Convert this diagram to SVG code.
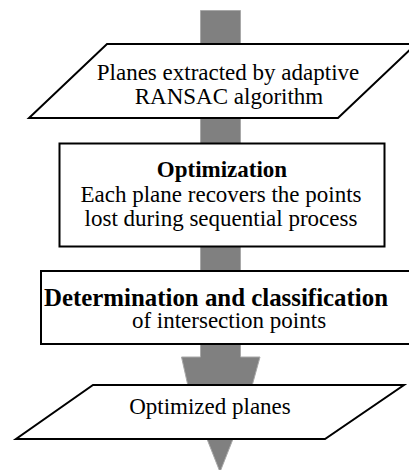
<svg xmlns="http://www.w3.org/2000/svg" width="409" height="470" viewBox="0 0 409 470">
<style>
.shape{fill:#fff;stroke:#000;stroke-width:2}
.arrow{fill:#808080;stroke:#a8a8a8;stroke-width:1}
text{font-family:"Liberation Serif","Times New Roman",serif;font-size:23px;fill:#000;text-anchor:middle}
.b{font-weight:bold}
</style>
<rect width="409" height="470" fill="#fff"/>
<g id="connectors">
<polygon class="arrow" points="200.5,10.5 240.5,10.5 240.5,357 260,357 252,386 233,439 220,472 207,439 188,386 181.5,357 200.5,357"/>
</g>
<g id="n1">
<polygon class="shape" points="107,44 416,44 338,118 29,118"/>
<text x="228" y="80">Planes extracted by adaptive</text>
<text x="229" y="104">RANSAC algorithm</text>
</g>
<g id="n2">
<rect class="shape" x="59.5" y="143.5" width="325" height="103"/>
<text class="b" x="222" y="177">Optimization</text>
<text x="221" y="201.5">Each plane recovers the points</text>
<text x="221" y="225.5">lost during sequential process</text>
</g>
<g id="n3">
<rect class="shape" x="41" y="271" width="380" height="73"/>
<text class="b" x="216" y="305.5" style="font-size:25px" textLength="344" lengthAdjust="spacingAndGlyphs">Determination and classification</text>
<text x="229" y="328">of intersection points</text>
</g>
<g id="n4">
<polygon class="shape" points="93,385 404,385 325,439 16,439"/>
<text x="210" y="414">Optimized planes</text>
</g>
</svg>
